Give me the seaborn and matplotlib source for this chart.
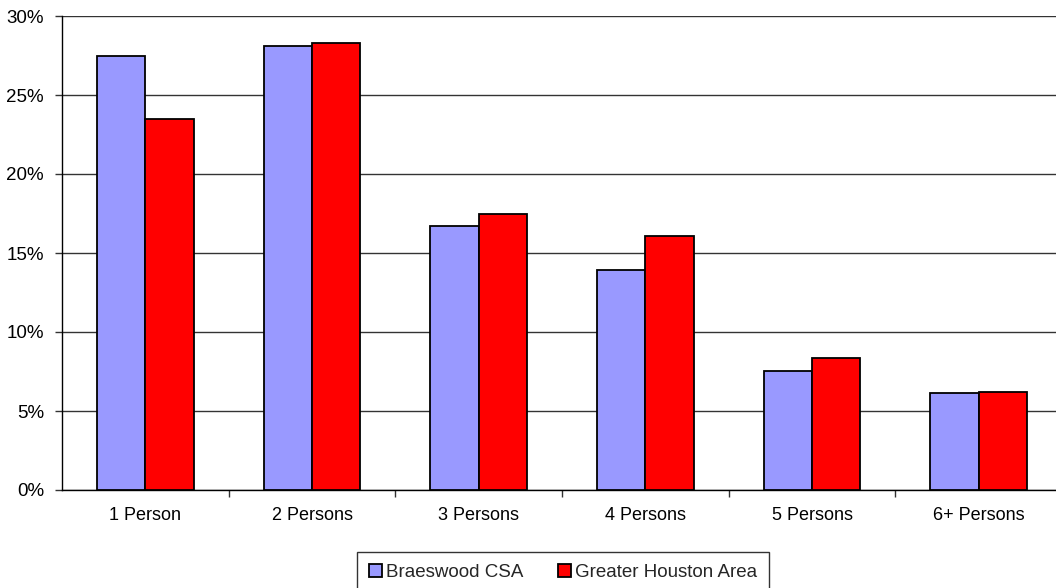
import matplotlib
matplotlib.use("Agg")
import matplotlib.pyplot as plt
import numpy as np
import pandas as pd
import seaborn as sns
from matplotlib.ticker import FixedLocator, PercentFormatter

categories = ["1 Person", "2 Persons", "3 Persons", "4 Persons", "5 Persons", "6+ Persons"]
series_names = ["Braeswood CSA", "Greater Houston Area"]
braeswood = [27.5, 28.1, 16.7, 13.9, 7.55, 6.12]
houston = [23.5, 28.3, 17.45, 16.05, 8.33, 6.18]
y_ticks = [0, 5, 10, 15, 20, 25, 30]
colors = ["#9999FF", "#FF0000"]

df = pd.DataFrame({
    "category": categories * 2,
    "area": [series_names[0]] * len(categories) + [series_names[1]] * len(categories),
    "share": braeswood + houston,
})

sns.set_theme(style="white")
plt.rcParams["font.family"] = ["Liberation Sans", "DejaVu Sans"]

fig = plt.figure(figsize=(10.56, 5.88), dpi=100)
ax = fig.add_axes([62 / 1056, 1 - 490 / 588, 1000 / 1056, (490 - 16) / 588])

sns.barplot(
    data=df, x="category", y="share", hue="area",
    order=categories, hue_order=series_names, palette=colors,
    width=0.58, gap=0, edgecolor="black", linewidth=1.3,
    saturation=1, ax=ax, legend=True, zorder=3,
)

ax.set_ylim(0, 30)
ax.set_xlim(-0.5, len(categories) - 0.5)
ax.set_yticks(y_ticks)
ax.yaxis.set_major_formatter(PercentFormatter(decimals=0))
ax.yaxis.grid(True, color="#333333", linewidth=1, zorder=0)
ax.set_axisbelow(True)
ax.set_xlabel("")
ax.set_ylabel("")

ax.tick_params(axis="x", which="major", length=0, pad=12, labelsize=13, colors="black")
ax.xaxis.set_minor_locator(FixedLocator(np.arange(0.5, len(categories) - 0.5, 1)))
ax.tick_params(axis="x", which="minor", bottom=True, length=5, width=1, color="#333333")
ax.tick_params(axis="y", left=True, length=5, width=1, color="#333333", pad=8,
               labelsize=13.5, labelcolor="black")

for side in ["top", "right"]:
    ax.spines[side].set_visible(False)
for side in ["left", "bottom"]:
    ax.spines[side].set_visible(True)
    ax.spines[side].set_color("black")
    ax.spines[side].set_linewidth(1)

handles, labels = ax.get_legend_handles_labels()
ax.get_legend().remove()
leg = fig.legend(
    handles, labels, loc="upper center", bbox_to_anchor=(563 / 1056, 1 - 543 / 588),
    ncol=2, frameon=True, fancybox=False, fontsize=13.5, handlelength=0.7,
    handleheight=0.7, handletextpad=0.25, columnspacing=1.8, borderpad=0.6,
)
leg.get_frame().set_edgecolor("black")
leg.get_frame().set_linewidth(1)

fig.savefig("out.png", dpi=100)
